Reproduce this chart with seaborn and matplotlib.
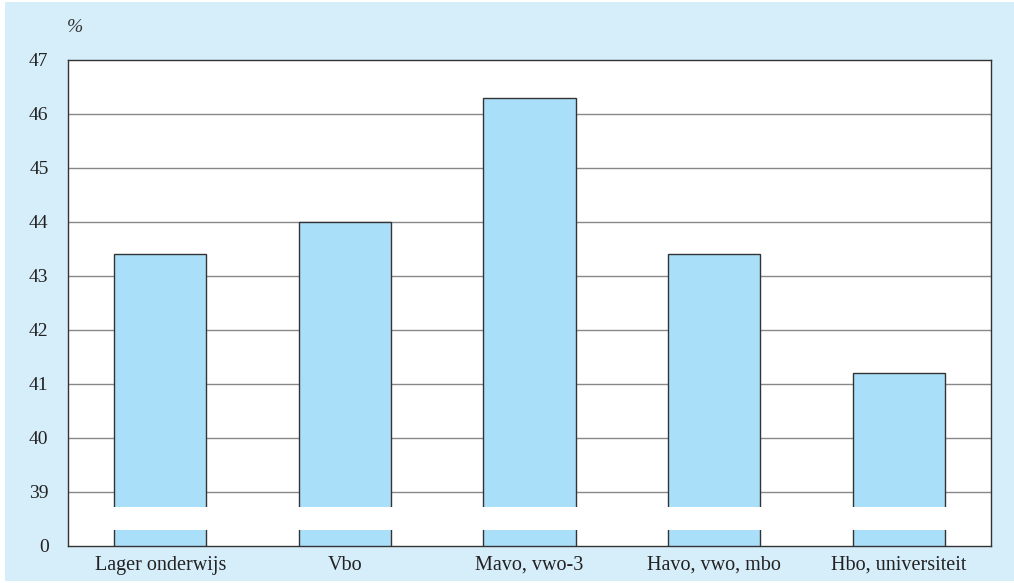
import matplotlib
matplotlib.use("Agg")
import matplotlib.pyplot as plt
import matplotlib.patches as mpatches
import seaborn as sns
import pandas as pd

# data
categorieen = ["Lager onderwijs", "Vbo", "Mavo, vwo-3", "Havo, vwo, mbo", "Hbo, universiteit"]
percentages = [43.4, 44.0, 46.3, 43.4, 41.2]
y_ticks = [38, 39, 40, 41, 42, 43, 44, 45, 46, 47]
y_labels = ["0", "39", "40", "41", "42", "43", "44", "45", "46", "47"]

df = pd.DataFrame({"cat": categorieen, "pct": percentages})

sns.set_style("white")
plt.rcParams["font.family"] = ["Liberation Serif", "DejaVu Serif"]

blauw_bg = "#d6edfa"
blauw_bar = "#aadff9"

fig = plt.figure(figsize=(10.14, 5.83), dpi=100)
fig.patch.set_facecolor("white")
# lichtblauwe achtergrond
fig.add_artist(mpatches.Rectangle((5 / 1014, 2 / 583), 1 - 5 / 1014, 1 - 4 / 583,
                                  transform=fig.transFigure, facecolor=blauw_bg,
                                  edgecolor="none", zorder=-10))

ax = fig.add_axes([68 / 1014, 1 - 546 / 583, 923 / 1014, 486 / 583])
ax.set_facecolor("white")

sns.barplot(data=df, x="cat", y="pct", color=blauw_bar, width=0.5,
            edgecolor="#333333", linewidth=1, saturation=1, ax=ax, zorder=3)

ax.set_ylim(38, 47)
ax.set_xlim(-0.5, 4.5)
ax.set_yticks(y_ticks)
ax.set_yticklabels(y_labels, fontsize=14, color="#222222")
for y in y_ticks[1:-1]:
    ax.axhline(y, color="#888888", linewidth=1, zorder=1)

# onderbreking van de as
ax.axhspan(38.3, 38.72, color="white", zorder=4, linewidth=0)

ax.set_xticks(range(len(categorieen)))
ax.set_xticklabels(categorieen, fontsize=14.5, color="#222222")
ax.set_xticks([0.5, 1.5, 2.5, 3.5], minor=True)
ax.tick_params(axis="x", which="major", length=0, pad=7)
ax.tick_params(axis="x", which="minor", length=25, width=1, color="#444444")
ax.tick_params(axis="y", length=0, pad=14)
ax.set_xlabel("")
ax.set_ylabel("")

for s in ax.spines.values():
    s.set_color("#333333")
    s.set_linewidth(1)
    s.set_zorder(5)

fig.text(75 / 1014, 1 - 28 / 583, "%", fontsize=14, style="italic",
         color="#333333", va="center", ha="center")

fig.savefig("out.png", dpi=100, facecolor=fig.get_facecolor())
